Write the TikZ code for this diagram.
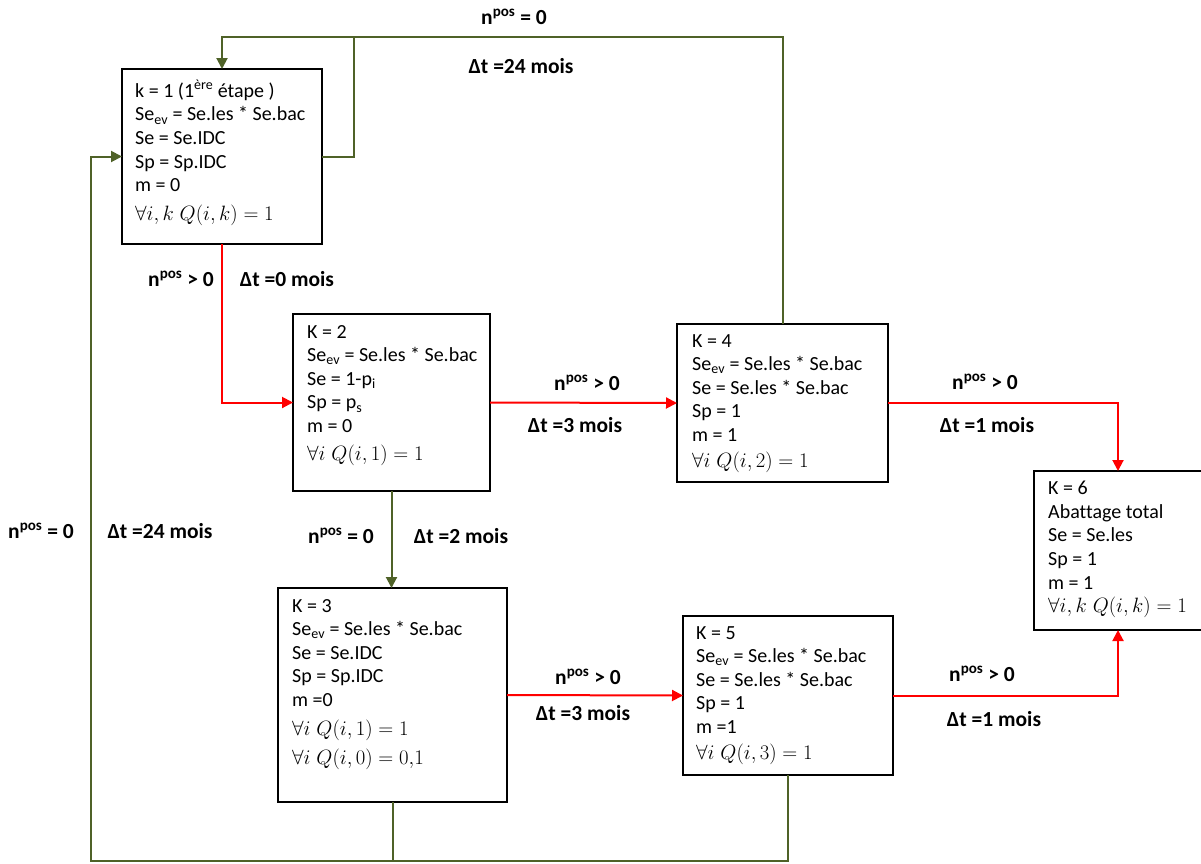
\documentclass[tikz,border=0pt]{standalone}
\usepackage{fontspec}
\setmainfont{Carlito}[Ligatures=NoCommon]
\usetikzlibrary{arrows.meta}

\definecolor{vertolive}{RGB}{79,98,40}

\tikzset{
  etape/.style={draw, line width=2.6pt, anchor=north west, inner sep=0pt, outer sep=0pt},
  contenu/.style={anchor=north west, inner sep=0pt, align=left, font=\fontsize{20}{23.6}\selectfont},
  etiq/.style={inner sep=0pt, font=\fontsize{21.5}{24}\selectfont\bfseries},
  fleche/.style={line width=2pt, -{Triangle[length=11pt,width=11pt]}},
  rouge/.style={fleche, red},
  vert/.style={fleche, vertolive},
  trait/.style={line width=2pt, vertolive}
}

\begin{document}
\begin{tikzpicture}[x=1pt,y=-1pt]
    \useasboundingbox (0,0) rectangle (1201,863);

    % etape 1
    \node[etape, minimum width=200pt, minimum height=175pt] (k1) at (122,69) {};
    \node[contenu] (t1) at ([shift={(13,11)}]k1.north west) {k = 1 (1\textsuperscript{ère} étape )\\
      Se\textsubscript{ev} = Se.les * Se.bac\\ Se = Se.IDC\\ Sp = Sp.IDC\\ m = 0\\[5pt]
      $\forall i,k\; Q(i,k) = 1$};

    % etape 2
    \node[etape, minimum width=197pt, minimum height=177pt] (k2) at (293,314) {};
    \node[contenu] (t2) at ([shift={(14,11)}]k2.north west) {K = 2\\
      Se\textsubscript{ev} = Se.les * Se.bac\\ Se = 1-p\textsubscript{i}\\ Sp = p\textsubscript{s}\\ m = 0\\[4pt]
      $\forall i\; Q(i,1) = 1$};

    % etape 3
    \node[etape, minimum width=229pt, minimum height=214pt] (k3) at (278,588) {};
    \node[contenu] (t3) at ([shift={(14,11)}]k3.north west) {K = 3\\
      Se\textsubscript{ev} = Se.les * Se.bac\\ Se = Se.IDC\\ Sp = Sp.IDC\\ m =0\\[5pt]
      $\forall i\; Q(i,1) = 1$\\[6pt] $\forall i\; Q(i,0) = 0{,}1$};

    % etape 4
    \node[etape, minimum width=211pt, minimum height=158pt] (k4) at (677,324) {};
    \node[contenu] (t4) at ([shift={(15,10)}]k4.north west) {K = 4\\
      Se\textsubscript{ev} = Se.les * Se.bac\\ Se = Se.les * Se.bac\\ Sp = 1\\ m = 1\\[2pt]
      $\forall i\; Q(i,2) = 1$};

    % etape 5
    \node[etape, minimum width=210pt, minimum height=159pt] (k5) at (683,616) {};
    \node[contenu] (t5) at ([shift={(13,10)}]k5.north west) {K = 5\\
      Se\textsubscript{ev} = Se.les * Se.bac\\ Se = Se.les * Se.bac\\ Sp = 1\\ m =1\\[2pt]
      $\forall i\; Q(i,3) = 1$};

    % etape 6
    \node[etape, minimum width=168pt, minimum height=159pt] (k6) at (1034,471) {};
    \node[contenu] (t6) at ([shift={(14,10)}]k6.north west) {K = 6\\
      Abattage total\\ Se = Se.les\\ Sp = 1\\ m = 1\\
      $\forall i,k\; Q(i,k) = 1$};

    % liaisons
    \coordinate (haut) at (354,37);
    \coordinate (bas) at (91,861);

    \draw[rouge] (k1.south) |- (k2.west);
    \draw[rouge] (k2.east) -- (k4.west);
    \draw[rouge] (k4.east) -| (k6.north);
    \draw[rouge] (k3.east) -- (k5.west);
    \draw[rouge] (k5.east) -| (k6.south);

    \draw[vert] (k2.south) -- (k2.south |- k3.north);
    \draw[vert] (k4.north) |- (k1.north |- haut) -- (k1.north);
    \draw[trait] (k1.east) -| (haut);
    \draw[vert] (k5.south) |- (bas) |- (k1.west);
    \draw[trait] (k3.south) -- (k3.south |- bas);

    % etiquettes
    \node[etiq] (np1) at (514,17) {n\textsuperscript{pos} = 0};
    \node[etiq] (dt1) at (521,66) {Δt =24 mois};
    \node[etiq] (np2) at (181,279) {n\textsuperscript{pos} > 0};
    \node[etiq] (dt2) at (287,279) {Δt =0 mois};
    \node[etiq] (np3) at (587,383) {n\textsuperscript{pos} > 0};
    \node[etiq] (dt3) at (575,425) {Δt =3 mois};
    \node[etiq] (np4) at (985,382) {n\textsuperscript{pos} > 0};
    \node[etiq] (dt4) at (987,425) {Δt =1 mois};
    \node[etiq] (np5) at (41,531) {n\textsuperscript{pos} = 0};
    \node[etiq] (dt5) at (160,531) {Δt =24 mois};
    \node[etiq] (np6) at (341,536) {n\textsuperscript{pos} = 0};
    \node[etiq] (dt6) at (461,536) {Δt =2 mois};
    \node[etiq] (np7) at (588,677) {n\textsuperscript{pos} > 0};
    \node[etiq] (dt7) at (583,713) {Δt =3 mois};
    \node[etiq] (np8) at (982,674) {n\textsuperscript{pos} > 0};
    \node[etiq] (dt8) at (994,719) {Δt =1 mois};
\end{tikzpicture}
\end{document}
